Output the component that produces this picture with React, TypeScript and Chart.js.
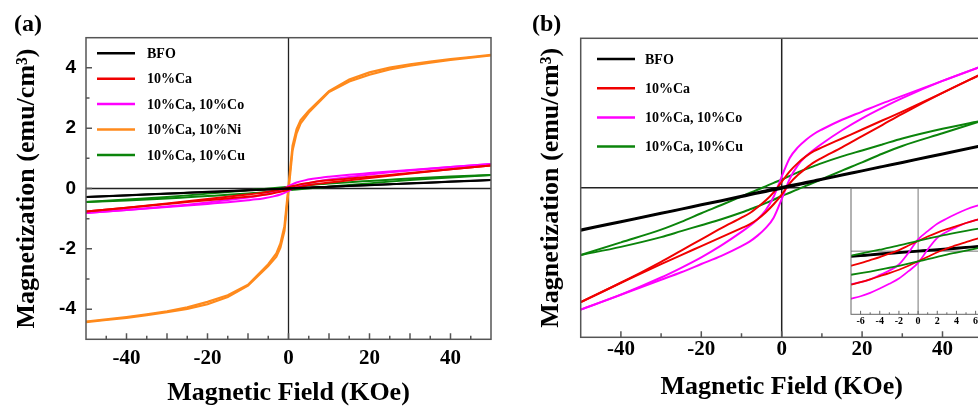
import React, { useEffect, useRef } from "react";
import { Chart, registerables } from "chart.js";
Chart.register(...registerables);

const SERIF = '"Liberation Serif", "Times New Roman", serif';
const SANS = '"Liberation Sans", Arial, sans-serif';

// ---------- data (field in kOe, magnetization in emu/cm^3) ----------
const H_MAIN = [-50, -40, -30, -25, -20, -15, -10, -8, -6, -4, -2, 0, 2, 4, 6, 8, 10, 15, 20, 25, 30, 40, 50];

const BFO_DESC = [-0.280, -0.224, -0.168, -0.140, -0.111, -0.083, -0.054, -0.042, -0.030, -0.018, -0.006, 0.005, 0.016, 0.027, 0.038, 0.049, 0.060, 0.088, 0.116, 0.144, 0.172, 0.229, 0.286];
const BFO_ASC = [-0.286, -0.230, -0.173, -0.145, -0.117, -0.089, -0.061, -0.049, -0.038, -0.027, -0.016, -0.005, 0.006, 0.018, 0.030, 0.042, 0.054, 0.083, 0.111, 0.139, 0.167, 0.223, 0.280];

const CA_DESC = [-0.765, -0.635, -0.495, -0.420, -0.345, -0.270, -0.200, -0.170, -0.130, -0.085, -0.030, 0.040, 0.110, 0.165, 0.210, 0.245, 0.270, 0.330, 0.390, 0.450, 0.510, 0.635, 0.765];
const CA_ASC = [-0.765, -0.635, -0.510, -0.450, -0.390, -0.330, -0.270, -0.245, -0.210, -0.165, -0.110, -0.045, 0.030, 0.085, 0.130, 0.170, 0.200, 0.270, 0.345, 0.420, 0.495, 0.635, 0.765];

const CO_DESC = [-0.815, -0.715, -0.600, -0.535, -0.465, -0.385, -0.295, -0.255, -0.210, -0.150, -0.060, 0.075, 0.200, 0.270, 0.320, 0.360, 0.390, 0.455, 0.510, 0.565, 0.615, 0.715, 0.815];
const CO_ASC = [-0.815, -0.715, -0.615, -0.565, -0.510, -0.455, -0.390, -0.360, -0.320, -0.270, -0.200, -0.075, 0.060, 0.150, 0.210, 0.255, 0.295, 0.385, 0.465, 0.535, 0.600, 0.715, 0.815];

const CU_DESC = [-0.450, -0.365, -0.280, -0.228, -0.170, -0.115, -0.058, -0.035, -0.013, 0.010, 0.033, 0.055, 0.080, 0.103, 0.125, 0.145, 0.165, 0.210, 0.250, 0.290, 0.330, 0.395, 0.450];
const CU_ASC = [-0.450, -0.395, -0.330, -0.290, -0.250, -0.210, -0.165, -0.145, -0.125, -0.103, -0.080, -0.055, -0.033, -0.010, 0.013, 0.035, 0.058, 0.115, 0.170, 0.228, 0.280, 0.365, 0.450];

const H_NI = [-50, -45, -40, -35, -30, -25, -20, -15, -10, -5, -3, -2, -1, 0, 1, 2, 3, 5, 10, 15, 20, 25, 30, 35, 40, 45, 50];
const NI_DESC = [-4.41, -4.34, -4.26, -4.17, -4.07, -3.94, -3.76, -3.54, -3.19, -2.51, -2.15, -1.82, -1.25, 0.08, 1.42, 1.97, 2.27, 2.58, 3.23, 3.61, 3.85, 4.01, 4.12, 4.21, 4.29, 4.36, 4.43];
const NI_ASC = [-4.43, -4.36, -4.29, -4.20, -4.10, -3.99, -3.84, -3.60, -3.22, -2.57, -2.26, -1.96, -1.40, -0.08, 1.26, 1.83, 2.16, 2.52, 3.20, 3.55, 3.77, 3.95, 4.07, 4.17, 4.26, 4.34, 4.41];

// inset (low field region)
const H_IN = [-7, -6, -5, -4, -3, -2, -1, 0, 1, 2, 3, 4, 5, 6, 7];
const IN_BFO_DESC = [-0.027, -0.023, -0.019, -0.014, -0.010, -0.006, -0.002, 0.002, 0.006, 0.010, 0.014, 0.018, 0.022, 0.027, 0.031];
const IN_BFO_ASC = [-0.031, -0.027, -0.022, -0.018, -0.014, -0.010, -0.006, -0.002, 0.002, 0.006, 0.010, 0.014, 0.019, 0.023, 0.027];
const IN_CA_DESC = [-0.081, -0.067, -0.050, -0.033, -0.014, 0.006, 0.031, 0.056, 0.081, 0.103, 0.122, 0.139, 0.156, 0.172, 0.186];
const IN_CA_ASC = [-0.186, -0.172, -0.156, -0.139, -0.122, -0.103, -0.081, -0.056, -0.031, -0.006, 0.014, 0.033, 0.050, 0.067, 0.081];
const IN_CO_DESC = [-0.183, -0.172, -0.156, -0.133, -0.108, -0.074, -0.009, 0.065, 0.111, 0.152, 0.181, 0.207, 0.231, 0.250, 0.264];
const IN_CO_ASC = [-0.264, -0.250, -0.231, -0.207, -0.181, -0.152, -0.111, -0.065, 0.009, 0.074, 0.108, 0.133, 0.156, 0.172, 0.183];
const IN_CU_DESC = [-0.025, -0.014, -0.003, 0.008, 0.019, 0.032, 0.044, 0.057, 0.069, 0.081, 0.092, 0.103, 0.113, 0.122, 0.131];
const IN_CU_ASC = [-0.131, -0.122, -0.113, -0.103, -0.092, -0.081, -0.069, -0.057, -0.044, -0.032, -0.019, -0.008, 0.003, 0.014, 0.025];

// labels and ticks
const NAMES = ["BFO", "10%Ca", "10%Ca, 10%Co", "10%Ca, 10%Ni", "10%Ca, 10%Cu"];
const X_TITLE = "Magnetic Field (KOe)";
const Y_TITLE = "Magnetization (emu/cm\u00B3)";
const A_X_TICKS = [-40, -20, 0, 20, 40];
const A_X_MID = [-30, -10, 10, 30];
const A_X_MINOR = [-45, -35, -25, -15, -5, 5, 15, 25, 35, 45];
const A_Y_TICKS = [-4, -2, 0, 2, 4];
const A_Y_MINOR = [-3, -1, 1, 3];
const B_X_TICKS = [-40, -20, 0, 20, 40];
const B_X_MINOR = [-30, -10, 10, 30];
const IN_X_TICKS = [-6, -4, -2, 0, 2, 4, 6];
const IN_X_MINOR = [-5, -3, -1, 1, 3, 5];

// ---------- styles ----------
const C_BLACK = "#000000";
const C_RED = "#f00000";
const C_MAGENTA = "#ff00ff";
const C_ORANGE = "#ff8a1c";
const C_GREEN = "#0b840b";

function branches(label: string, color: string, hs: number[], desc: number[], asc: number[], width: number, smooth: boolean) {
  const base = {
    label,
    borderColor: color,
    backgroundColor: color,
    borderWidth: width,
    pointRadius: 0,
    showLine: true,
    fill: false,
    tension: smooth ? 0.4 : 0,
    cubicInterpolationMode: smooth ? "monotone" : "default",
  };
  return [
    { ...base, data: hs.map((h, i) => ({ x: h, y: desc[i] })), legendItem: true },
    { ...base, data: hs.map((h, i) => ({ x: h, y: asc[i] })), legendItem: false },
  ];
}

type DecorCfg = {
  frameColor: string;
  frameWidth: number;
  zeroColor: string;
  zeroWidth: number;
  xMajor: number[];
  xMid?: number[];
  xMinor: number[];
  yMajor?: number[];
  yMinor?: number[];
  majorLen: number;
  minorLen: number;
  legend?: { dx0: number; dx1: number; dtext: number; dy0: number; step: number; font: string; lineWidth: number };
};

function makeDecor(cfg: DecorCfg) {
  return {
    id: "decor",
    beforeDatasetsDraw(chart: any) {
      const { ctx, chartArea: a, scales } = chart;
      ctx.save();
      ctx.strokeStyle = cfg.zeroColor;
      ctx.lineWidth = cfg.zeroWidth;
      const x0 = scales.x.getPixelForValue(0);
      const y0 = scales.y.getPixelForValue(0);
      ctx.beginPath();
      ctx.moveTo(x0, a.top);
      ctx.lineTo(x0, a.bottom);
      ctx.moveTo(a.left, y0);
      ctx.lineTo(a.right, y0);
      ctx.stroke();
      ctx.restore();
    },
    afterDraw(chart: any) {
      const { ctx, chartArea: a, scales } = chart;
      ctx.save();
      ctx.strokeStyle = cfg.frameColor;
      ctx.lineWidth = cfg.frameWidth;
      ctx.strokeRect(a.left, a.top, a.right - a.left, a.bottom - a.top);
      ctx.beginPath();
      const xt = (vals: number[] | undefined, len: number) => {
        (vals || []).forEach((v) => {
          const x = scales.x.getPixelForValue(v);
          ctx.moveTo(x, a.bottom);
          ctx.lineTo(x, a.bottom - len);
        });
      };
      const yt = (vals: number[] | undefined, len: number) => {
        (vals || []).forEach((v) => {
          const y = scales.y.getPixelForValue(v);
          ctx.moveTo(a.left, y);
          ctx.lineTo(a.left + len, y);
        });
      };
      xt(cfg.xMajor, cfg.majorLen);
      xt(cfg.xMid, cfg.majorLen);
      xt(cfg.xMinor, cfg.minorLen);
      yt(cfg.yMajor, cfg.majorLen);
      yt(cfg.yMinor, cfg.minorLen);
      ctx.stroke();

      if (cfg.legend) {
        const L = cfg.legend;
        const items = chart.data.datasets.filter((d: any) => d.legendItem);
        items.forEach((d: any, i: number) => {
          const y = a.top + L.dy0 + i * L.step;
          ctx.strokeStyle = d.borderColor;
          ctx.lineWidth = L.lineWidth;
          ctx.beginPath();
          ctx.moveTo(a.left + L.dx0, y);
          ctx.lineTo(a.left + L.dx1, y);
          ctx.stroke();
          ctx.fillStyle = "#000";
          ctx.font = L.font;
          ctx.textBaseline = "middle";
          ctx.textAlign = "left";
          ctx.fillText(d.label, a.left + L.dtext, y + 1);
        });
      }
      ctx.restore();
    },
  };
}

function axisX(min: number, max: number, ticks: number[], opts: any) {
  return {
    type: "linear",
    position: "bottom",
    min,
    max,
    grid: { display: false, drawTicks: false },
    border: { display: false },
    afterBuildTicks: (s: any) => {
      s.ticks = ticks.map((v) => ({ value: v }));
    },
    afterFit: (s: any) => {
      s.height = opts.height;
    },
    ticks: {
      autoSkip: false,
      maxRotation: 0,
      color: "#000",
      padding: opts.padding,
      font: { family: SERIF, size: opts.fontSize, weight: "bold" },
    },
    title: opts.title
      ? {
          display: true,
          text: X_TITLE,
          color: "#000",
          font: { family: SERIF, size: 26, weight: "bold", lineHeight: 1 },
          padding: { top: 0, bottom: opts.titlePad },
        }
      : { display: false },
  };
}

function configA() {
  const datasets = [
    ...branches(NAMES[0], C_BLACK, H_MAIN, BFO_DESC, BFO_ASC, 2, true),
    ...branches(NAMES[1], C_RED, H_MAIN, CA_DESC, CA_ASC, 2, true),
    ...branches(NAMES[2], C_MAGENTA, H_MAIN, CO_DESC, CO_ASC, 2, true),
    ...branches(NAMES[3], C_ORANGE, H_NI, NI_DESC, NI_ASC, 2.2, false),
    ...branches(NAMES[4], C_GREEN, H_MAIN, CU_DESC, CU_ASC, 2, true),
  ];
  return {
    type: "scatter",
    data: { datasets },
    options: {
      animation: false,
      responsive: false,
      devicePixelRatio: 1,
      events: [],
      layout: { padding: { left: 0, right: 9, top: 37.7, bottom: 0 } },
      plugins: { legend: { display: false }, tooltip: { enabled: false }, title: { display: false } },
      scales: {
        x: axisX(-50, 50, A_X_TICKS, { height: 66.7, padding: 7, fontSize: 21, title: true, titlePad: 0 }),
        y: {
          type: "linear",
          min: -5,
          max: 5,
          grid: { display: false, drawTicks: false },
          border: { display: false },
          afterBuildTicks: (s: any) => {
            s.ticks = A_Y_TICKS.map((v) => ({ value: v }));
          },
          afterFit: (s: any) => {
            s.width = 86;
          },
          ticks: { color: "#000", padding: 10, font: { family: SANS, size: 19, weight: "bold" } },
          title: {
            display: true,
            text: Y_TITLE,
            color: "#000",
            font: { family: SERIF, size: 26, weight: "bold", lineHeight: 1 },
            padding: { top: 14, bottom: 0 },
          },
        },
      },
    },
    plugins: [
      makeDecor({
        frameColor: "#555",
        frameWidth: 1.5,
        zeroColor: "#222",
        zeroWidth: 1.3,
        xMajor: A_X_TICKS,
        xMid: A_X_MID,
        xMinor: A_X_MINOR,
        yMajor: A_Y_TICKS,
        yMinor: A_Y_MINOR,
        majorLen: 6,
        minorLen: 3.5,
        legend: { dx0: 11, dx1: 49, dtext: 61, dy0: 15.6, step: 25.4, font: `bold 14px ${SERIF}`, lineWidth: 2.5 },
      }),
    ],
  };
}

function configB() {
  const datasets = [
    ...branches(NAMES[0], C_BLACK, H_MAIN, BFO_DESC, BFO_ASC, 2.2, true),
    ...branches(NAMES[1], C_RED, H_MAIN, CA_DESC, CA_ASC, 2, true),
    ...branches(NAMES[2], C_MAGENTA, H_MAIN, CO_DESC, CO_ASC, 2, true),
    ...branches(NAMES[4], C_GREEN, H_MAIN, CU_DESC, CU_ASC, 2, true),
  ];
  return {
    type: "scatter",
    data: { datasets },
    options: {
      animation: false,
      responsive: false,
      devicePixelRatio: 1,
      events: [],
      layout: { padding: { left: 0, right: 7.3, top: 38.3, bottom: 0 } },
      plugins: { legend: { display: false }, tooltip: { enabled: false }, title: { display: false } },
      scales: {
        x: axisX(-50, 50, B_X_TICKS, { height: 68.7, padding: 0, fontSize: 21, title: true, titlePad: 6 }),
        y: {
          type: "linear",
          min: -1,
          max: 1,
          grid: { display: false, drawTicks: false },
          border: { display: false },
          afterFit: (s: any) => {
            s.width = 60.7;
          },
          ticks: { display: false },
          title: {
            display: true,
            text: Y_TITLE,
            color: "#000",
            font: { family: SERIF, size: 26, weight: "bold", lineHeight: 1 },
            padding: { top: 18, bottom: 0 },
          },
        },
      },
    },
    plugins: [
      makeDecor({
        frameColor: "#555",
        frameWidth: 1.5,
        zeroColor: "#222",
        zeroWidth: 1.5,
        xMajor: B_X_TICKS,
        xMinor: B_X_MINOR,
        majorLen: 6,
        minorLen: 4,
        legend: { dx0: 16.3, dx1: 54.3, dtext: 64.3, dy0: 20.7, step: 29.2, font: `bold 14px ${SERIF}`, lineWidth: 2.5 },
      }),
    ],
  };
}

function configInset() {
  const datasets = [
    ...branches(NAMES[4], C_GREEN, H_IN, IN_CU_DESC, IN_CU_ASC, 1.8, true),
    ...branches(NAMES[1], C_RED, H_IN, IN_CA_DESC, IN_CA_ASC, 1.8, true),
    ...branches(NAMES[2], C_MAGENTA, H_IN, IN_CO_DESC, IN_CO_ASC, 1.8, true),
    ...branches(NAMES[0], C_BLACK, H_IN, IN_BFO_DESC, IN_BFO_ASC, 2.2, true),
  ];
  return {
    type: "scatter",
    data: { datasets },
    options: {
      animation: false,
      responsive: false,
      devicePixelRatio: 1,
      events: [],
      layout: { padding: { left: 11, right: 14.8, top: 8, bottom: 0 } },
      plugins: { legend: { display: false }, tooltip: { enabled: false }, title: { display: false } },
      scales: {
        x: axisX(-7, 7, IN_X_TICKS, { height: 25.7, padding: 1.4, fontSize: 10, title: false, titlePad: 0 }),
        y: { type: "linear", min: -0.35, max: 0.35, display: false },
      },
    },
    plugins: [
      makeDecor({
        frameColor: "#666",
        frameWidth: 1,
        zeroColor: "#777",
        zeroWidth: 1,
        xMajor: IN_X_TICKS,
        xMinor: IN_X_MINOR,
        majorLen: 3.5,
        minorLen: 2,
      }),
    ],
  };
}

function ChartCanvas({ make, left, top, width, height }: { make: () => any; left: number; top: number; width: number; height: number }) {
  const ref = useRef<HTMLCanvasElement | null>(null);
  useEffect(() => {
    const chart = new Chart(ref.current as HTMLCanvasElement, make());
    return () => chart.destroy();
  }, []);
  return (
    <canvas
      ref={ref}
      width={width}
      height={height}
      style={{ position: "absolute", left, top, width, height, display: "block" }}
    />
  );
}

export default function App() {
  const label = { position: "absolute" as const, font: `bold 24px ${SERIF}`, lineHeight: 1, color: "#000" };
  return (
    <div style={{ position: "absolute", left: 0, top: 0, width: 978, height: 406, overflow: "hidden", background: "#fff" }}>
      <ChartCanvas make={configA} left={0} top={0} width={500} height={406} />
      <ChartCanvas make={configB} left={520} top={0} width={470} height={406} />
      <ChartCanvas make={configInset} left={840} top={180} width={160} height={160} />
      <div style={{ ...label, left: 14, top: 11 }}>(a)</div>
      <div style={{ ...label, left: 532, top: 11 }}>(b)</div>
    </div>
  );
}
